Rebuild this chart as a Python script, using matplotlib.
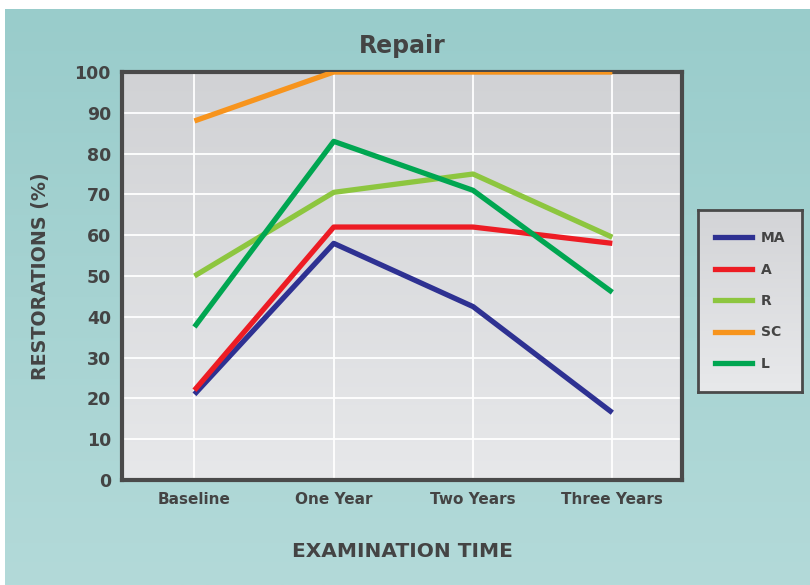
import numpy as np
import matplotlib.pyplot as plt
from matplotlib.colors import LinearSegmentedColormap
from matplotlib.lines import Line2D

# data
times = ["Baseline", "One Year", "Two Years", "Three Years"]
ma = [21, 58, 42.5, 16.5]
a = [22, 62, 62, 58]
r = [50, 70.5, 75, 59.5]
sc = [88, 100, 100, 100]
l = [37.5, 83, 71, 46]

series = [("MA", ma, "#2e3192"), ("A", a, "#ed1c24"), ("R", r, "#8dc63f"),
          ("SC", sc, "#f7941d"), ("L", l, "#00a651")]

dark = "#444444"
fnt = "DejaVu Sans"
wt = "bold"


def vgrad(top, bottom):
    return LinearSegmentedColormap.from_list("g", [top, bottom])


fig = plt.figure(figsize=(8.1, 5.85), dpi=100)
fig.patch.set_facecolor("white")

# teal backdrop with a soft vertical gradient
bg = fig.add_axes([5 / 810, 0, 805 / 810, 576 / 585], zorder=-5)
grad = np.linspace(0, 1, 256).reshape(-1, 1)
bg.imshow(grad, aspect="auto", extent=[0, 1, 0, 1], origin="upper", cmap=vgrad("#99cccb", "#b3dad9"))
bg.axis("off")

ax = fig.add_axes([122 / 810, 105 / 585, 560 / 810, 408 / 585])
x = np.arange(len(times))
ax.set_xlim(-0.52, 3.5)
ax.set_ylim(0, 100)
ax.imshow(grad, aspect="auto", extent=[-0.52, 3.5, 0, 100], origin="upper", zorder=0,
          cmap=vgrad("#d1d2d5", "#e7e8ea"))

for lab, vals, col in series:
    ax.plot(x, vals, color=col, lw=3.8, label=lab, zorder=3, solid_capstyle="butt")

ax.set_xticks(x)
ax.set_xticklabels(times, fontsize=11, fontweight=wt, color=dark, family=fnt)
ax.set_yticks(np.arange(0, 101, 10))
ax.set_yticklabels([str(v) for v in range(0, 101, 10)], fontsize=12.5, fontweight=wt,
                   color=dark, family=fnt)
ax.tick_params(axis="x", length=0, pad=8.5)
ax.tick_params(axis="y", length=0, pad=8)
ax.grid(True, color="white", lw=1.3, zorder=1)
ax.set_axisbelow(True)
for s in ax.spines.values():
    s.set_color("#4a4a4a")
    s.set_linewidth(3)

ax.set_title("Repair", fontsize=17, fontweight=wt, color=dark, family=fnt, pad=14)
ax.set_ylabel("RESTORATIONS (%)", fontsize=13.7, fontweight=wt, color=dark, family=fnt, labelpad=18)
ax.set_xlabel("EXAMINATION TIME", fontsize=14.5, fontweight=wt, color=dark, family=fnt, labelpad=25)

# legend box at the right
lax = fig.add_axes([698 / 810, (585 - 392) / 585, 104 / 810, 182 / 585])
lax.imshow(grad, aspect="auto", extent=[0, 1, 0, 1], origin="upper", cmap=vgrad("#d3d4d7", "#e8e9eb"))
lax.set_xticks([])
lax.set_yticks([])
for s in lax.spines.values():
    s.set_color("#4a4a4a")
    s.set_linewidth(2)
handles = [Line2D([], [], color=col, lw=3.8) for _, _, col in series]
leg = lax.legend(handles, [lab for lab, _, _ in series], loc="center", frameon=False,
                 handlelength=2.7, handletextpad=0.6, labelspacing=1.25,
                 prop={"family": fnt, "weight": wt, "size": 10})
for t in leg.get_texts():
    t.set_color(dark)

fig.savefig("out.png", dpi=100)
